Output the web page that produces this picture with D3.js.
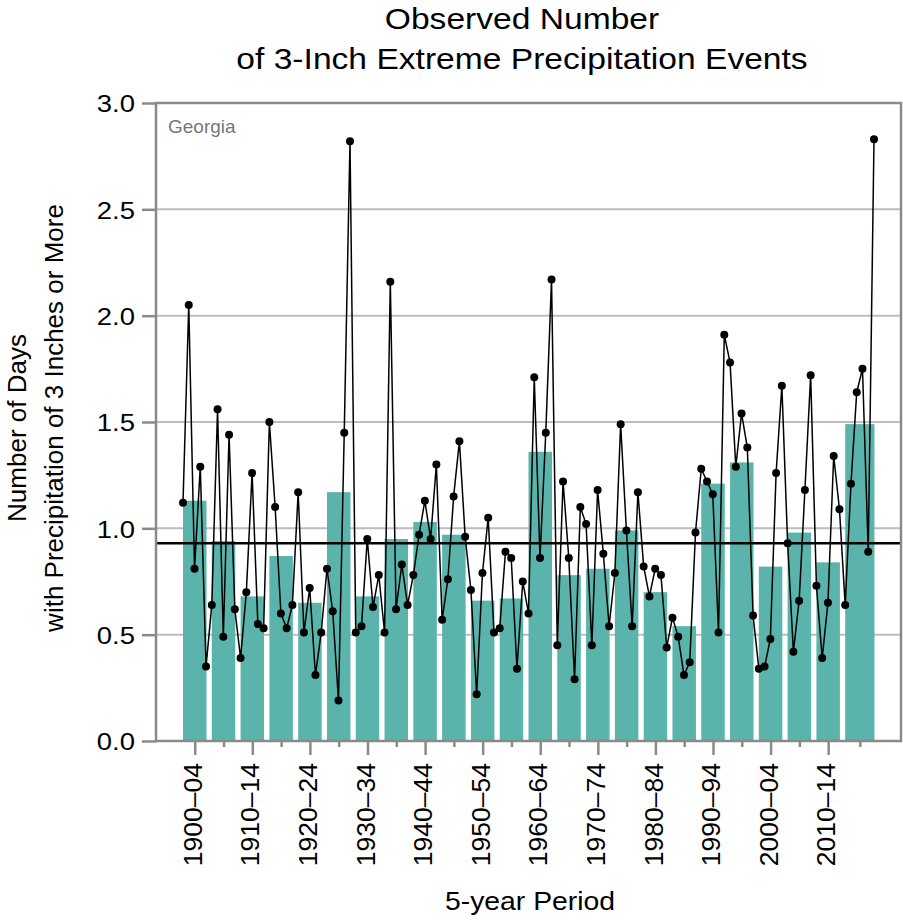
<!DOCTYPE html>
<html>
<head>
<meta charset="utf-8">
<script src="https://cdn.jsdelivr.net/npm/d3@7"></script>
<style>
    body { margin: 0; background: #fff; }
    svg { display: block; font-family: "Liberation Sans", Arial, sans-serif; }
</style>
</head>
<body>
<svg id="chart" width="903" height="920"></svg>
<script>
// annual values, 1900-2020
const firstYear = 1900;
const annualValues = [
    1.12, 2.05, 0.81, 1.29, 0.35, 0.64, 1.56, 0.49, 1.44, 0.62,
    0.39, 0.70, 1.26, 0.55, 0.53, 1.50, 1.10, 0.60, 0.53, 0.64,
    1.17, 0.51, 0.72, 0.31, 0.51, 0.81, 0.61, 0.19, 1.45, 2.82,
    0.51, 0.54, 0.95, 0.63, 0.78, 0.51, 2.16, 0.62, 0.83, 0.64,
    0.78, 0.97, 1.13, 0.95, 1.30, 0.57, 0.76, 1.15, 1.41, 0.96,
    0.71, 0.22, 0.79, 1.05, 0.51, 0.53, 0.89, 0.86, 0.34, 0.75,
    0.60, 1.71, 0.86, 1.45, 2.17, 0.45, 1.22, 0.86, 0.29, 1.10,
    1.02, 0.45, 1.18, 0.88, 0.54, 0.79, 1.49, 0.99, 0.54, 1.17,
    0.82, 0.68, 0.81, 0.78, 0.44, 0.58, 0.49, 0.31, 0.37, 0.98,
    1.28, 1.22, 1.16, 0.51, 1.91, 1.78, 1.29, 1.54, 1.38, 0.59,
    0.34, 0.35, 0.48, 1.26, 1.67, 0.93, 0.42, 0.66, 1.18, 1.72,
    0.73, 0.39, 0.65, 1.34, 1.09, 0.64, 1.21, 1.64, 1.75, 0.89,
    2.83
];

// 5-year period bars (last one runs 2015-2020)
const periodStart = [1900, 1905, 1910, 1915, 1920, 1925, 1930, 1935, 1940, 1945, 1950, 1955,
                     1960, 1965, 1970, 1975, 1980, 1985, 1990, 1995, 2000, 2005, 2010, 2015];
const periodEnd   = [1904, 1909, 1914, 1919, 1924, 1929, 1934, 1939, 1944, 1949, 1954, 1959,
                     1964, 1969, 1974, 1979, 1984, 1989, 1994, 1999, 2004, 2009, 2014, 2020];
const periodValues = [1.13, 0.94, 0.68, 0.87, 0.65, 1.17, 0.68, 0.95, 1.03, 0.97, 0.66, 0.67,
                      1.36, 0.78, 0.81, 0.99, 0.70, 0.54, 1.21, 1.31, 0.82, 0.98, 0.84, 1.49];
const periodLabels = ["1900–04", "1905–09", "1910–14", "1915–19", "1920–24", "1925–29",
                      "1930–34", "1935–39", "1940–44", "1945–49", "1950–54", "1955–59",
                      "1960–64", "1965–69", "1970–74", "1975–79", "1980–84", "1985–89",
                      "1990–94", "1995–99", "2000–04", "2005–09", "2010–14", "2015–20"];
const shownLabels = ["1900–04", "1910–14", "1920–24", "1930–34", "1940–44", "1950–54",
                     "1960–64", "1970–74", "1980–84", "1990–94", "2000–04", "2010–14"];

const yTicks = [0, 0.5, 1.0, 1.5, 2.0, 2.5, 3.0];
const longTermAverage = 0.93;

const width = 903, height = 920;
const plot = {left: 156, right: 901, top: 103, bottom: 741};
const sx = 1.12;     // the reference type is a little wide

const svg = d3.select("#chart");

let annual = annualValues.map((v, i) => ({year: firstYear + i, value: v}));
let periods = periodStart.map((s, i) => ({
    start: s, end: periodEnd[i], value: periodValues[i], label: periodLabels[i]
}));

let x = d3.scaleLinear()
    .domain([1900, 2020])
    .range([plot.left + 27, plot.right - 27]);

let y = d3.scaleLinear()
    .domain([0, 3])
    .range([plot.bottom, plot.top]);

const barGap = 5.3;
let barX = d => x(d.start);
let barW = d => x(d.end + 1) - x(d.start) - barGap;

// horizontal text helper (stretched a bit)
function hText(g, tx, ty, str, size, anchor, stretch) {
    return g.append("text")
        .attr("transform", "translate(" + tx + "," + ty + ") scale(" + stretch + ",1)")
        .attr("text-anchor", anchor)
        .style("font-size", size + "px")
        .text(str);
}

// gridlines
svg.append("g")
    .selectAll("line")
    .data(yTicks.filter(d => d > 0 && d < 3))
    .enter()
    .append("line")
    .attr("x1", plot.left)
    .attr("x2", plot.right)
    .attr("y1", d => y(d))
    .attr("y2", d => y(d))
    .style("stroke", "#bdbdbd")
    .style("stroke-width", 2);

// bars
svg.append("g")
    .selectAll("rect")
    .data(periods)
    .enter()
    .append("rect")
    .attr("x", barX)
    .attr("width", barW)
    .attr("y", d => y(d.value))
    .attr("height", d => y(0) - y(d.value))
    .style("fill", "#5ab4ac");

// average line
svg.append("line")
    .attr("x1", plot.left)
    .attr("x2", plot.right)
    .attr("y1", y(longTermAverage))
    .attr("y2", y(longTermAverage))
    .style("stroke", "#000")
    .style("stroke-width", 2.5);

// annual series
let line = d3.line()
    .x(d => x(d.year))
    .y(d => y(d.value));

svg.append("path")
    .datum(annual)
    .attr("d", line)
    .style("fill", "none")
    .style("stroke", "#000")
    .style("stroke-width", 1.5);

svg.append("g")
    .selectAll("circle")
    .data(annual)
    .enter()
    .append("circle")
    .attr("cx", d => x(d.year))
    .attr("cy", d => y(d.value))
    .attr("r", 4)
    .style("fill", "#000");

// frame
svg.append("rect")
    .attr("x", plot.left)
    .attr("y", plot.top)
    .attr("width", plot.right - plot.left)
    .attr("height", plot.bottom - plot.top)
    .style("fill", "none")
    .style("stroke", "#8a8a8a")
    .style("stroke-width", 2.5);

// y axis
let yAxis = d3.axisLeft(y)
    .tickValues(yTicks)
    .tickFormat(d3.format(".1f"))
    .tickSize(14)
    .tickPadding(7);

let yG = svg.append("g")
    .attr("transform", "translate(" + plot.left + ",0)")
    .call(yAxis);
yG.select(".domain").remove();
yG.selectAll(".tick line").style("stroke", "#8a8a8a").style("stroke-width", 2.5);
yG.selectAll(".tick text")
    .attr("x", null)
    .attr("transform", "translate(-21,0) scale(" + sx + ",1)")
    .attr("dy", "0.36em")
    .style("font-size", "24.5px")
    .style("fill", "#000")
    .style("font-family", "'Liberation Sans', Arial, sans-serif");

// x axis: one tick per bar centre
let tickYears = periods.map(d => x.invert(barX(d) + barW(d) / 2));
let labelOf = new Map(tickYears.map((t, i) => [t, periods[i].label]));

let xAxis = d3.axisBottom(x)
    .tickValues(tickYears)
    .tickFormat(t => shownLabels.includes(labelOf.get(t)) ? labelOf.get(t) : "")
    .tickSize(14)
    .tickPadding(0);

let xG = svg.append("g")
    .attr("transform", "translate(0," + plot.bottom + ")")
    .call(xAxis);
xG.select(".domain").remove();
xG.selectAll(".tick line")
    .attr("y2", t => shownLabels.includes(labelOf.get(t)) ? 14 : 6)
    .style("stroke", "#8a8a8a")
    .style("stroke-width", 2.5);
xG.selectAll(".tick text")
    .attr("x", 0)
    .attr("y", 0)
    .attr("dy", "0.25em")
    .attr("transform", "translate(0,22) rotate(-90)")
    .attr("text-anchor", "end")
    .style("font-size", "26.5px")
    .style("fill", "#000")
    .style("font-family", "'Liberation Sans', Arial, sans-serif");

// titles
let titleG = svg.append("g").style("fill", "#000");
hText(titleG, 522, 29, "Observed Number", 30, "middle", sx);
hText(titleG, 522, 69, "of 3-Inch Extreme Precipitation Events", 30, "middle", sx);

hText(svg, 530, 910, "5-year Period", 25.3, "middle", sx);

hText(svg, 168, 133, "Georgia", 19, "start", 1).style("fill", "#777");

// y axis title (two rotated lines)
[["Number of Days", 26, 428], ["with Precipitation of 3 Inches or More", 63, 418]].forEach(function (d) {
    svg.append("text")
        .attr("transform", "translate(" + d[1] + "," + d[2] + ") rotate(-90)")
        .attr("text-anchor", "middle")
        .style("font-size", "26px")
        .text(d[0]);
});
</script>
</body>
</html>
